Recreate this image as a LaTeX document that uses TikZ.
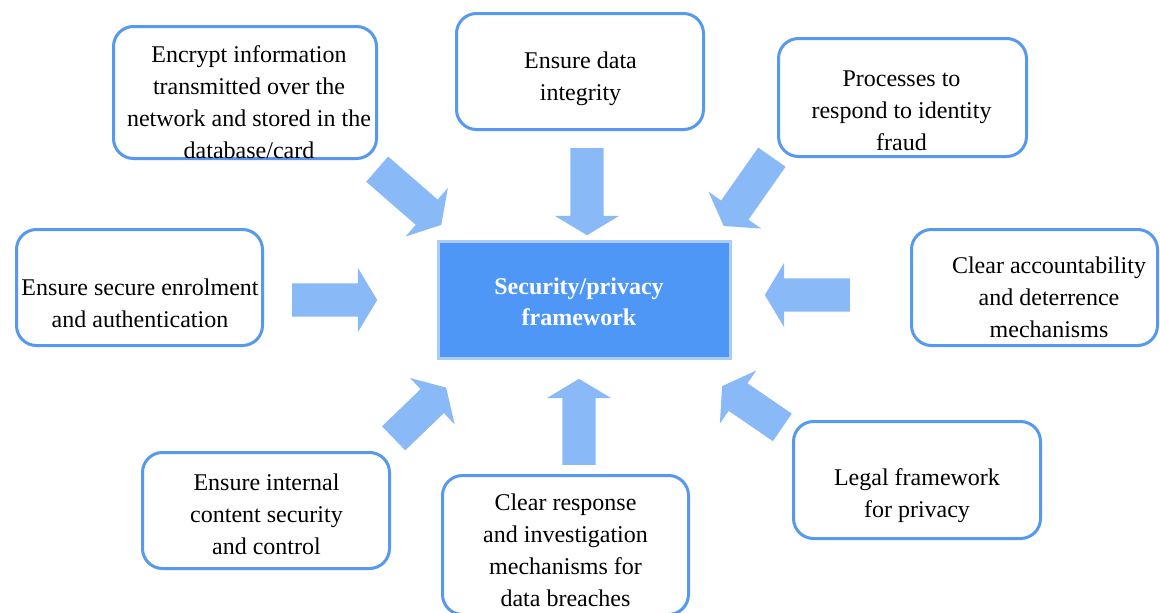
\documentclass[tikz,border=0pt]{standalone}
\usepackage{fontspec}
\setmainfont{Liberation Serif}
\usetikzlibrary{positioning}
\usetikzlibrary{shapes.arrows}
\definecolor{boxline}{HTML}{5699EF}
\definecolor{corefill}{HTML}{4F97F6}
\definecolor{coreline}{HTML}{AACDF8}
\definecolor{arrowfill}{HTML}{8AB9F8}

\begin{document}
\begin{tikzpicture}[x=1pt,y=-1pt,
  box/.style={draw=boxline,line width=3pt,rounded corners=20pt,fill=white,inner sep=0pt},
  txt/.style={align=center,font=\fontsize{24}{32}\selectfont,inner sep=0pt,yshift=-2.5pt},
  core/.style={draw=coreline,fill=corefill,line width=3pt,minimum width=292pt,minimum height=117pt},
  coretxt/.style={align=center,text=white,font=\bfseries\fontsize{24}{31}\selectfont,inner sep=0pt},
  blockarrow/.style={single arrow,fill=arrowfill,draw=none,inner xsep=0pt,inner ysep=16.5pt,
    single arrow head extend=15.5pt,single arrow tip angle=118,anchor=tail}]
 \useasboundingbox (0,0) rectangle (1160,613);
 \fill[white] (0,0) rectangle (1160,613);
 % centre
 \node[core] (frame) at (584.5,300) {};
 \node[coretxt] (framet) at (579,302) {Security/privacy\\framework};
 % outer boxes
 \node[box,minimum width=263pt,minimum height=132pt] (encbox) at (245,92.5) {};
 \node[txt] (enc) at (249,100) {Encrypt information\\transmitted over the\\network and stored in the\\database/card};
 \node[box,minimum width=247pt,minimum height=116pt] (intbox) at (580,71.5) {};
 \node[txt] (int) at (580.5,76) {Ensure data\\integrity};
 \node[box,minimum width=248pt,minimum height=118pt] (fraudbox) at (902.5,97.5) {};
 \node[txt] (fraud) at (901.5,108) {Processes to\\respond to identity\\fraud};
 \node[box,minimum width=246pt,minimum height=116pt] (enrbox) at (139.5,287.5) {};
 \node[txt] (enr) at (140,300.5) {Ensure secure enrolment\\and authentication};
 \node[box,minimum width=246pt,minimum height=116pt] (accbox) at (1034.5,287.5) {};
 \node[txt] (acc) at (1049,295) {Clear accountability\\and deterrence\\mechanisms};
 \node[box,minimum width=247pt,minimum height=116pt] (ctrlbox) at (266,510.5) {};
 \node[txt] (ctrl) at (266.5,511.5) {Ensure internal\\content security\\and control};
 \node[box,minimum width=246pt,minimum height=139pt] (brchbox) at (565.5,545) {};
 \node[txt] (brch) at (565.5,547.5) {Clear response\\and investigation\\mechanisms for\\data breaches};
 \node[box,minimum width=247pt,minimum height=117pt] (legbox) at (917,480) {};
 \node[txt] (leg) at (917,493) {Legal framework\\for privacy};
 % block arrows
 \node[blockarrow,minimum height=85pt,rotate=-41] (a1) at (377,169) {};
 \node[blockarrow,minimum height=87pt,rotate=-90] (a2) at (587,148) {};
 \node[blockarrow,minimum height=84pt,rotate=-125] (a3) at (772,157) {};
 \node[blockarrow,minimum height=85pt,rotate=0] (a4) at (292,300) {};
 \node[blockarrow,minimum height=85pt,rotate=180] (a5) at (850,295) {};
 \node[blockarrow,minimum height=73pt,rotate=44] (a6) at (393.5,438.5) {};
 \node[blockarrow,minimum height=86pt,rotate=90] (a7) at (579,465) {};
 \node[blockarrow,minimum height=73pt,rotate=145.6] (a8) at (782.5,427.5) {};
\end{tikzpicture}
\end{document}
